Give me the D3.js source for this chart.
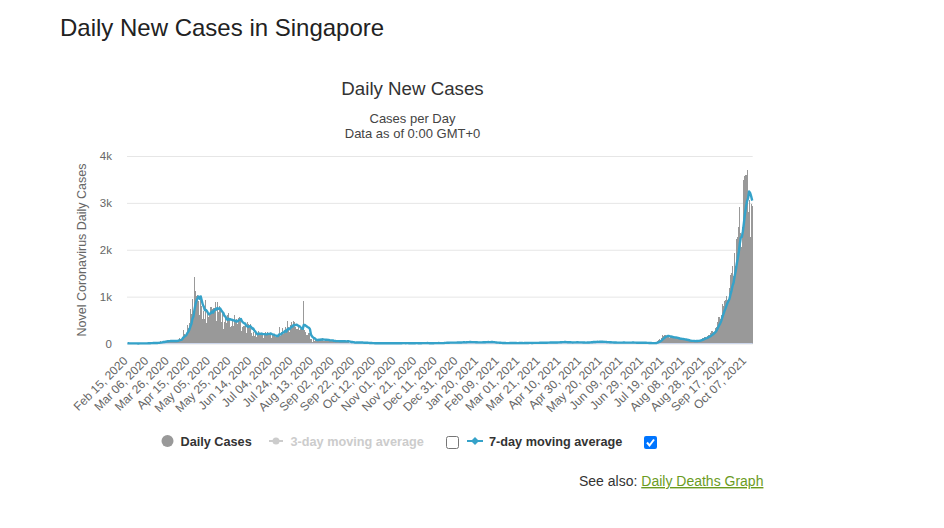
<!DOCTYPE html>
<html>
<head>
<meta charset="utf-8">
<script src="https://cdn.jsdelivr.net/npm/d3@7"></script>
<style>
  body { margin: 0; background: #fff; }
  svg text { font-family: Arial, "Liberation Sans", sans-serif; }
</style>
</head>
<body>
<svg id="chart"></svg>
<script>
//Daily new cases, Feb 15, 2020 to Oct 13, 2021 (one row per month)
var cases2020 = [
  5, 3, 2, 4, 3, 1, 1, 3, 1, 1, 1, 2, 3, 2, 4,
  4, 2, 2, 2, 7, 13, 8, 12, 10, 6, 12, 12, 13, 12, 14, 17, 23, 47, 32, 40, 47, 23, 54, 49, 73, 52, 49, 70, 42, 35, 47,
  74, 49, 65, 75, 120, 66, 106, 142, 287, 198, 191, 233, 386, 334, 447, 728, 623, 942, 596, 1426, 1111, 1016, 1037, 897, 618, 931, 799, 528, 690, 528,
  932, 447, 657, 573, 632, 788, 741, 768, 753, 876, 486, 884, 675, 793, 752, 465, 682, 305, 451, 570, 448, 614, 642, 548, 344, 383, 533, 373, 611, 506, 518,
  408, 544, 569, 517, 261, 347, 383, 386, 218, 451, 422, 347, 407, 214, 151, 247, 150, 253, 142, 218, 262, 218, 191, 199, 191, 121, 213, 242, 213, 246,
  215, 185, 191, 120, 183, 183, 157, 143, 145, 191, 347, 166, 248, 322, 211, 248, 347, 226, 485, 354, 251, 390, 469, 331, 483, 469, 359, 313, 307, 362, 278,
  304, 313, 307, 908, 295, 242, 181, 188, 232, 102, 88, 42, 93, 50, 114, 61, 85, 76, 94, 86, 87, 116, 64, 50, 56, 99, 77, 82, 58, 47, 45,
  56, 46, 61, 58, 45, 39, 55, 32, 47, 53, 55, 74, 27, 33, 43, 76, 18, 17, 11, 25, 15, 21, 29, 33, 17, 16, 14, 15, 27, 24,
  8, 12, 12, 9, 11, 13, 9, 10, 6, 5, 2, 3, 6, 5, 5, 2, 6, 10, 6, 3, 6, 5, 7, 7, 7, 6, 3, 7, 4, 5, 5,
  4, 4, 7, 14, 2, 5, 7, 12, 10, 3, 4, 9, 5, 3, 10, 6, 5, 4, 12, 6, 8, 10, 3, 4, 2, 12, 18, 5, 11, 8,
  6, 6, 3, 9, 7, 5, 8, 9, 11, 12, 6, 7, 12, 6, 9, 10, 12, 15, 26, 10, 24, 14, 21, 17, 18, 23, 21, 24, 12, 18, 27
];
var cases2021 = [
  30, 19, 26, 28, 18, 29, 29, 26, 36, 40, 29, 27, 27, 27, 22, 38, 34, 12, 19, 13, 30, 24, 30, 38, 27, 15, 23, 42, 23, 46, 33,
  29, 26, 24, 23, 23, 16, 14, 9, 18, 14, 12, 11, 5, 9, 7, 9, 10, 11, 11, 11, 10, 9, 8, 5, 11, 13, 3, 14,
  10, 8, 10, 8, 6, 16, 12, 17, 13, 10, 13, 11, 9, 11, 22, 16, 12, 14, 10, 16, 20, 18, 13, 16, 17, 24, 12, 22, 24, 18, 27,
  22, 20, 22, 28, 16, 22, 24, 29, 32, 40, 26, 30, 25, 37, 24, 21, 21, 27, 24, 23, 21, 22, 25, 25, 33, 30, 21, 19, 20, 26,
  24, 18, 17, 15, 17, 25, 29, 34, 30, 29, 29, 41, 38, 26, 52, 38, 24, 49, 33, 30, 41, 36, 35, 24, 26, 20, 27, 25, 26, 24, 16,
  18, 18, 15, 12, 23, 23, 18, 25, 21, 18, 18, 13, 13, 23, 22, 27, 18, 22, 22, 16, 9, 17, 11, 20, 18, 28, 15, 14, 7, 17,
  20, 10, 10, 12, 4, 8, 7, 7, 11, 11, 8, 19, 56, 65, 88, 67, 123, 172, 163, 182, 179, 162, 131, 130, 127, 136, 142, 140, 121, 117, 110,
  98, 101, 97, 98, 94, 88, 99, 81, 68, 66, 57, 68, 45, 54, 50, 56, 55, 55, 44, 56, 64, 61, 79, 84, 93, 116, 121, 133, 138, 115, 152,
  191, 187, 219, 259, 241, 235, 328, 349, 457, 568, 555, 520, 607, 837, 807, 910, 935, 1009, 938, 917, 1178, 1457, 1504, 1650, 1443, 1939, 1647, 2236, 2268, 2478,
  2909, 2356, 2057, 2475, 3486, 3577, 3590, 3703, 2809, 3059, 2263, 2976, 2932
];

//X tick labels, one every 20 days from the first day
var tickEvery = 20;
var xTickLabels = [
  "Feb 15, 2020", "Mar 06, 2020", "Mar 26, 2020", "Apr 15, 2020", "May 05, 2020", "May 25, 2020",
  "Jun 14, 2020", "Jul 04, 2020", "Jul 24, 2020", "Aug 13, 2020", "Sep 02, 2020", "Sep 22, 2020",
  "Oct 12, 2020", "Nov 01, 2020", "Nov 21, 2020", "Dec 11, 2020", "Dec 31, 2020", "Jan 20, 2021",
  "Feb 09, 2021", "Mar 01, 2021", "Mar 21, 2021", "Apr 10, 2021", "Apr 30, 2021", "May 20, 2021",
  "Jun 09, 2021", "Jun 29, 2021", "Jul 19, 2021", "Aug 08, 2021", "Aug 28, 2021", "Sep 17, 2021",
  "Oct 07, 2021"
];
var yTicks = [0, 1000, 2000, 3000, 4000];

var cases = cases2020.concat(cases2021);

//7-day moving average of the daily cases
var avg7 = cases.map(function(d, i) {
  return d3.mean(cases.slice(Math.max(0, i - 6), i + 1));
});

//Width and height
var w = 944;
var h = 528;
var plot = { left: 127, right: 752.7, top: 156, bottom: 343.5 };

var svg = d3.select("#chart")
            .attr("width", w)
            .attr("height", h);

//Scales
var x = d3.scaleBand()
          .domain(d3.range(cases.length))
          .range([plot.left, plot.right])
          .padding(0);
var y = d3.scaleLinear()
          .domain([0, 4000])
          .range([plot.bottom, plot.top]);
var bw = x.bandwidth();

//Page heading
svg.append("text")
   .attr("x", 60).attr("y", 36)
   .style("font-size", "24px")
   .style("fill", "#222")
   .text("Daily New Cases in Singapore");

//Chart titles
svg.append("text")
   .attr("x", 412.5).attr("y", 95)
   .attr("text-anchor", "middle")
   .style("font-size", "18.7px")
   .style("fill", "#333")
   .text("Daily New Cases");
svg.append("text")
   .attr("x", 412.5).attr("y", 123)
   .attr("text-anchor", "middle")
   .style("font-size", "13px")
   .style("fill", "#444")
   .text("Cases per Day");
svg.append("text")
   .attr("x", 412.5).attr("y", 138)
   .attr("text-anchor", "middle")
   .style("font-size", "13px")
   .style("fill", "#444")
   .text("Data as of 0:00 GMT+0");

//Y axis with gridlines
var yAxis = svg.append("g")
   .attr("transform", "translate(" + plot.left + ",0)")
   .call(d3.axisLeft(y)
           .tickValues(yTicks)
           .tickSize(-(plot.right - plot.left))
           .tickPadding(15)
           .tickFormat(function(d) { return d === 0 ? "0" : (d / 1000) + "k"; }));
yAxis.select(".domain").remove();
yAxis.selectAll(".tick line").attr("stroke", "#e6e6e6");
yAxis.selectAll(".tick text")
     .style("font-size", "11.5px")
     .style("fill", "#666")
     .style("font-family", "Arial, sans-serif");

//Y axis title
svg.append("text")
   .attr("transform", "translate(86,250) rotate(-90)")
   .attr("text-anchor", "middle")
   .style("font-size", "12.5px")
   .style("fill", "#666")
   .text("Novel Coronavirus Daily Cases");

//Bars
svg.append("g")
   .attr("shape-rendering", "crispEdges")
   .selectAll("rect")
   .data(cases)
   .enter()
   .append("rect")
   .attr("x", function(d, i) { return x(i); })
   .attr("y", function(d) { return y(d); })
   .attr("width", bw + 0.05)
   .attr("height", function(d) { return y(0) - y(d); })
   .style("fill", "#999");

//X axis line
svg.append("line")
   .attr("x1", plot.left).attr("x2", plot.right)
   .attr("y1", plot.bottom).attr("y2", plot.bottom)
   .style("stroke", "#ccd6eb");

//7-day moving average line
var line = d3.line()
             .x(function(d, i) { return x(i) + bw / 2; })
             .y(function(d) { return y(d); });
svg.append("path")
   .datum(avg7)
   .attr("d", line)
   .style("fill", "none")
   .style("stroke", "#35a2c9")
   .style("stroke-width", 2.4)
   .style("stroke-linejoin", "round");

//X tick labels, rotated
svg.append("g")
   .selectAll("text")
   .data(xTickLabels)
   .enter()
   .append("text")
   .attr("transform", function(d, k) {
     var cx = x(k * tickEvery) + bw / 2;
     return "translate(" + (cx + 1) + "," + (plot.bottom + 18) + ") rotate(-45)";
   })
   .attr("text-anchor", "end")
   .style("font-size", "12px")
   .style("fill", "#666")
   .text(function(d) { return d; });

//Legend
var legend = svg.append("g").style("font-size", "12.7px").style("font-weight", "bold");
legend.append("circle")
      .attr("cx", 167.5).attr("cy", 441).attr("r", 6)
      .style("fill", "#999");
legend.append("text")
      .attr("x", 180.5).attr("y", 445.5)
      .style("fill", "#333")
      .text("Daily Cases");

legend.append("line")
      .attr("x1", 269).attr("x2", 283).attr("y1", 441).attr("y2", 441)
      .style("stroke", "#ccc").style("stroke-width", 2);
legend.append("circle")
      .attr("cx", 276).attr("cy", 441).attr("r", 3.5)
      .style("fill", "#ccc");
legend.append("text")
      .attr("x", 290.5).attr("y", 445.5)
      .style("fill", "#ccc")
      .text("3-day moving average");

legend.append("rect")
      .attr("x", 446.5).attr("y", 436.5).attr("width", 12).attr("height", 12)
      .attr("rx", 2)
      .style("fill", "#fff").style("stroke", "#767676");

legend.append("line")
      .attr("x1", 467).attr("x2", 483).attr("y1", 441).attr("y2", 441)
      .style("stroke", "#35a2c9").style("stroke-width", 2);
legend.append("path")
      .attr("d", "M475,437L479,441L475,445L471,441Z")
      .style("fill", "#35a2c9");
legend.append("text")
      .attr("x", 489).attr("y", 445.5)
      .style("fill", "#333")
      .text("7-day moving average");

legend.append("rect")
      .attr("x", 644).attr("y", 436).attr("width", 13).attr("height", 13)
      .attr("rx", 2)
      .style("fill", "#0075ff");
legend.append("path")
      .attr("d", "M647,442.5L649.5,445.5L654,439.5")
      .style("fill", "none").style("stroke", "#fff").style("stroke-width", 2);

//See also link
var seeAlso = svg.append("text")
   .attr("x", 579).attr("y", 486)
   .style("font-size", "14px")
   .style("fill", "#333");
seeAlso.append("tspan").text("See also: ");
seeAlso.append("tspan")
       .style("fill", "#6b9b1e")
       .style("text-decoration", "underline")
       .text("Daily Deaths Graph");
</script>
</body>
</html>
